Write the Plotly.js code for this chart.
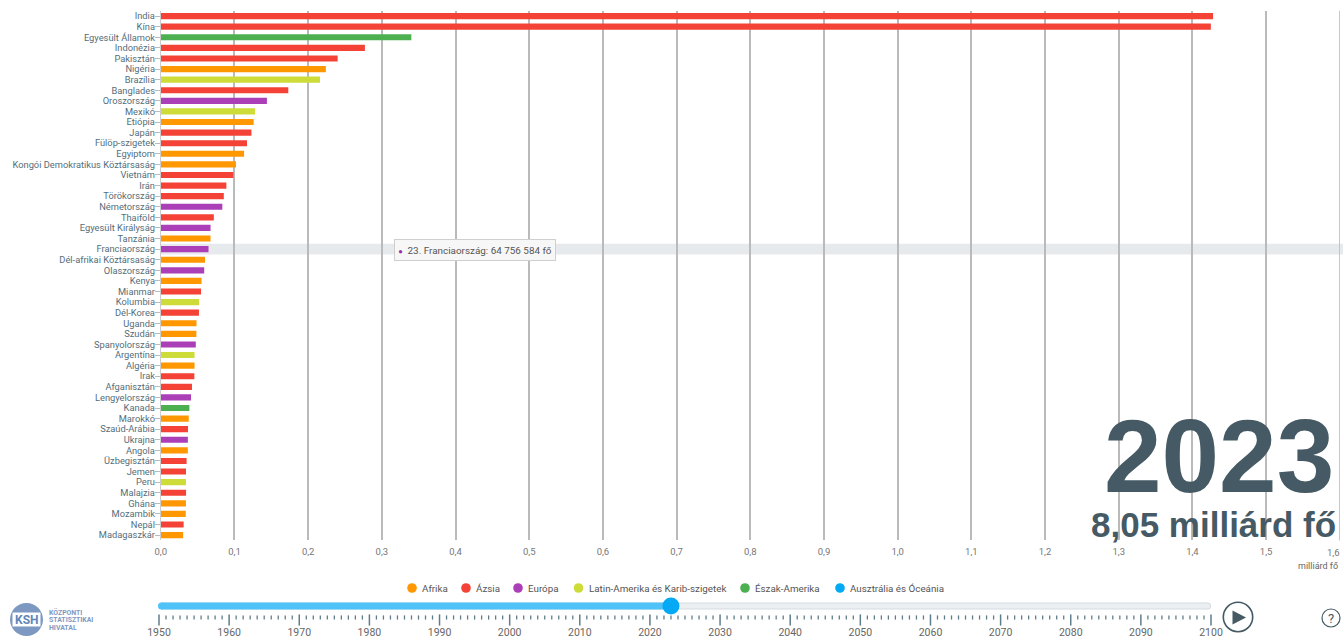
<!DOCTYPE html>
<html><head><meta charset="utf-8">
<script src="https://cdn.plot.ly/plotly-3.0.1.min.js"></script>
<style>html,body{margin:0;padding:0;background:#fff;overflow:hidden}#c{width:1343px;height:637px}</style>
</head><body><div id="c"></div>
<script>
const countries=["India","Kína","Egyesült Államok","Indonézia","Pakisztán","Nigéria","Brazília","Banglades","Oroszország","Mexikó","Etiópia","Japán","Fülöp-szigetek","Egyiptom","Kongói Demokratikus Köztársaság","Vietnám","Irán","Törökország","Németország","Thaiföld","Egyesült Királyság","Tanzánia","Franciaország","Dél-afrikai Köztársaság","Olaszország","Kenya","Mianmar","Kolumbia","Dél-Korea","Uganda","Szudán","Spanyolország","Argentína","Algéria","Irak","Afganisztán","Lengyelország","Kanada","Marokkó","Szaúd-Arábia","Ukrajna","Angola","Üzbegisztán","Jemen","Peru","Malajzia","Ghána","Mozambik","Nepál","Madagaszkár"];
const population=[1.428,1.425,0.340,0.277,0.240,0.224,0.216,0.173,0.144,0.128,0.126,0.123,0.117,0.113,0.102,0.0985,0.089,0.0855,0.0835,0.072,0.0675,0.0675,0.06476,0.060,0.0589,0.0553,0.0546,0.052,0.0518,0.0485,0.0483,0.0475,0.0458,0.0458,0.0455,0.0423,0.0410,0.0388,0.0379,0.0369,0.0367,0.0367,0.0350,0.0342,0.0341,0.0343,0.0341,0.0339,0.0310,0.0303];
const continentOf=["Ázsia","Ázsia","Észak-Amerika","Ázsia","Ázsia","Afrika","Latin-Amerika és Karib-szigetek","Ázsia","Európa","Latin-Amerika és Karib-szigetek","Afrika","Ázsia","Ázsia","Afrika","Afrika","Ázsia","Ázsia","Ázsia","Európa","Ázsia","Európa","Afrika","Európa","Afrika","Európa","Afrika","Ázsia","Latin-Amerika és Karib-szigetek","Ázsia","Afrika","Afrika","Európa","Latin-Amerika és Karib-szigetek","Afrika","Ázsia","Ázsia","Európa","Észak-Amerika","Afrika","Ázsia","Európa","Afrika","Ázsia","Ázsia","Latin-Amerika és Karib-szigetek","Ázsia","Afrika","Afrika","Ázsia","Afrika"];
const continents=["Afrika","Ázsia","Európa","Latin-Amerika és Karib-szigetek","Észak-Amerika","Ausztrália és Óceánia"];
const colors=["#ff9800","#f44336","#ab3fb8","#cddc39","#4caf50","#03a9f4"];
const legendDotX=[412,466,518,578.5,745,840];
const xTicks=[0,0.1,0.2,0.3,0.4,0.5,0.6,0.7,0.8,0.9,1.0,1.1,1.2,1.3,1.4,1.5,1.6];
const xTickText=xTicks.map(v=>v.toFixed(1).replace(".",","));
const logoLines=["KÖZPONTI","STATISZTIKAI","HIVATAL"];
const startYear=1950,endYear=2100,currentYear=2023;
const trackStart=1950.35,trackEnd=2099.5;
const W=1343,H=637;
const FONT="Roboto, sans-serif";
const TRACK="#eceff1",TRACKEDGE="#d3dbdf",FILL="#4fc3f7",THUMB="#03a9f4",SLATE="#455a64";

const traces=continents.map((c,k)=>{
  const idx=countries.map((_,i)=>i).filter(i=>continentOf[i]===c);
  return {type:"bar",orientation:"h",name:c,showlegend:false,hoverinfo:"x+y",
    y:idx.map(i=>countries[i]),x:idx.map(i=>population[i]),
    marker:{color:colors[k],line:{width:0}},width:0.58,xaxis:"x",yaxis:"y"};
});
const slider=(x,color,size,mode)=>({type:"scatter",mode,x,y:x.map(()=>0),xaxis:"x2",yaxis:"y2",cliponaxis:false,
  line:{color,width:size},marker:{color,size,line:{width:0}},hoverinfo:"skip",showlegend:false});
traces.push(slider([trackStart,trackEnd],TRACKEDGE,7,"lines"));
traces.push(slider([trackEnd],TRACKEDGE,7,"markers"));
traces.push(slider([trackStart,trackEnd],TRACK,5,"lines"));
traces.push(slider([trackEnd],TRACK,5,"markers"));
traces.push(slider([trackStart,currentYear],FILL,7,"lines"));
traces.push(slider([trackStart],FILL,7,"markers"));
traces.push(slider([currentYear],THUMB,17,"markers"));
// year ruler under the slider
const allYears=[];
for(let y=startYear;y<=endYear;y++) allYears.push(y);
const ruler=(years,yPos,size,width)=>({type:"scatter",mode:"markers",x:years,y:years.map(()=>yPos),xaxis:"x2",yaxis:"y3",cliponaxis:false,
  marker:{symbol:"line-ns",size,color:"#607d8b",line:{color:"#607d8b",width}},hoverinfo:"skip",showlegend:false});
traces.push(ruler(allYears.filter(y=>y%10===0),4,8,1.5));
traces.push(ruler(allYears.filter(y=>y%10!==0),1.5,3,1.3));

const paperAnn=(x,y,text,font,extra)=>Object.assign({xref:"paper",yref:"paper",x:x/W,y:1-y/H,xanchor:"center",yanchor:"middle",showarrow:false,text,font},extra||{});
const shapes=[
  {type:"rect",layer:"below",xref:"paper",yref:"y",x0:160/W,x1:1,y0:21.5,y1:22.5,fillcolor:"#e7eaed",line:{width:0}},
  {type:"line",layer:"below",xref:"x",yref:"paper",x0:xTicks[16],x1:xTicks[16],y0:1-540.4/H,y1:1-10.8/H,line:{color:"#bababa",width:1.6}}
];
const ann=[
  paperAnn(1335.5,456,"<b>2023</b>",{family:"Liberation Sans, Arial, sans-serif",size:103.5,color:SLATE},{xanchor:"right"}),
  paperAnn(1337.5,524,"<b>8,05 milliárd fő</b>",{family:"Liberation Sans, Arial, sans-serif",size:35,color:SLATE},{xanchor:"right"}),
  paperAnn(1340,566,"milliárd fő",{family:FONT,size:9,color:"#666"},{xanchor:"right"}),
  paperAnn(1333.5,552,xTickText[xTickText.length-1],{family:FONT,size:9.5,color:"#777"}),
  paperAnn(475,250.5,'<span style="color:#9c27b0;font-size:7.5px">●</span>  23. Franciaország: 64 756 584 fő',{family:FONT,size:9.9,color:"#555"},
    {bgcolor:"#f7f7f7",bordercolor:"#cfcfcf",borderwidth:1,borderpad:3,width:154,height:14,align:"center"})
];
const circle=(cx,cy,r,o)=>Object.assign({type:"circle",xref:"paper",yref:"paper",x0:(cx-r)/W,x1:(cx+r)/W,y0:1-(cy+r)/H,y1:1-(cy-r)/H},o);
continents.forEach((c,k)=>{
  const cx=legendDotX[k],cy=588;
  shapes.push(circle(cx,cy,4.8,{fillcolor:colors[k],line:{width:0}}));
  ann.push(paperAnn(cx+8,cy,c,{family:FONT,size:9.8,color:"#555"},{xanchor:"left"}));
});
// KSH logo, play and help buttons
shapes.push(circle(26.5,619.5,16.5,{fillcolor:"#7d98c1",line:{width:0}}));
shapes.push({type:"rect",xref:"paper",yref:"paper",x0:12.5/W,x1:40.5/W,y0:1-626.5/H,y1:1-612.5/H,fillcolor:"#fff",line:{width:0}});
shapes.push(circle(1238,617,14.7,{fillcolor:"rgba(0,0,0,0)",line:{color:SLATE,width:1.6}}));
shapes.push({type:"path",xref:"paper",yref:"paper",
  path:`M ${1232.5/W} ${1-610.5/H} L ${1246/W} ${1-617.5/H} L ${1232.5/W} ${1-624.5/H} Z`,fillcolor:SLATE,line:{width:0}});
shapes.push(circle(1331,618,9,{fillcolor:"rgba(0,0,0,0)",line:{color:SLATE,width:1.2}}));
ann.push(paperAnn(26.5,620,"<b>KSH</b>",{family:FONT,size:12,color:"#5f86b8"}));
logoLines.forEach((t,i)=>ann.push(paperAnn(47,612+8*i,"<b>"+t+"</b>",{family:FONT,size:6.9,color:"#7d98c1"},{xanchor:"left"})));
ann.push(paperAnn(1331,618,"?",{family:FONT,size:13,color:SLATE}));

const layout={
  width:W,height:H,margin:{l:0,r:0,t:0,b:0},paper_bgcolor:"#fff",plot_bgcolor:"rgba(0,0,0,0)",
  barmode:"overlay",showlegend:false,font:{family:FONT,size:10,color:"#555"},
  xaxis:{domain:[160.8/W,1339.8/W],range:[0,1.6],tickmode:"array",tickvals:xTicks.slice(0,-1),ticktext:xTickText.slice(0,-1),
    showgrid:true,gridcolor:"#bababa",gridwidth:1.6,zeroline:false,showline:false,ticks:"",
    tickfont:{family:FONT,size:9.5,color:"#777"},anchor:"y",ticklabelstandoff:4},
  yaxis:{domain:[1-540.4/H,1-10.8/H],type:"category",categoryorder:"array",categoryarray:countries,
    range:[49.5,-0.5],ticks:"outside",ticklen:5,tickwidth:1,tickcolor:"#bbb",showline:true,linecolor:"#ccc",linewidth:1,
    showgrid:false,tickfont:{family:FONT,size:9.3,color:"#546e7a"},anchor:"x",dtick:1,tickmode:"linear",ticklabelstandoff:-2},
  xaxis2:{domain:[159/W,1211/W],range:[startYear,endYear],anchor:"y3",tickmode:"linear",tick0:1950,dtick:10,
    ticks:"",showgrid:false,zeroline:false,showline:false,
    tickformat:"d",tickfont:{family:FONT,size:10.5,color:"#666"},ticklabelstandoff:0},
  yaxis2:{domain:[1-616/H,1-596/H],range:[-1,1],anchor:"x2",visible:false,fixedrange:true},
  yaxis3:{domain:[1-624/H,1-616/H],range:[8,0],anchor:"x2",visible:false,fixedrange:true},
  shapes:shapes,annotations:ann
};
Plotly.newPlot("c",traces,layout,{displayModeBar:false,responsive:false});
</script></body></html>
